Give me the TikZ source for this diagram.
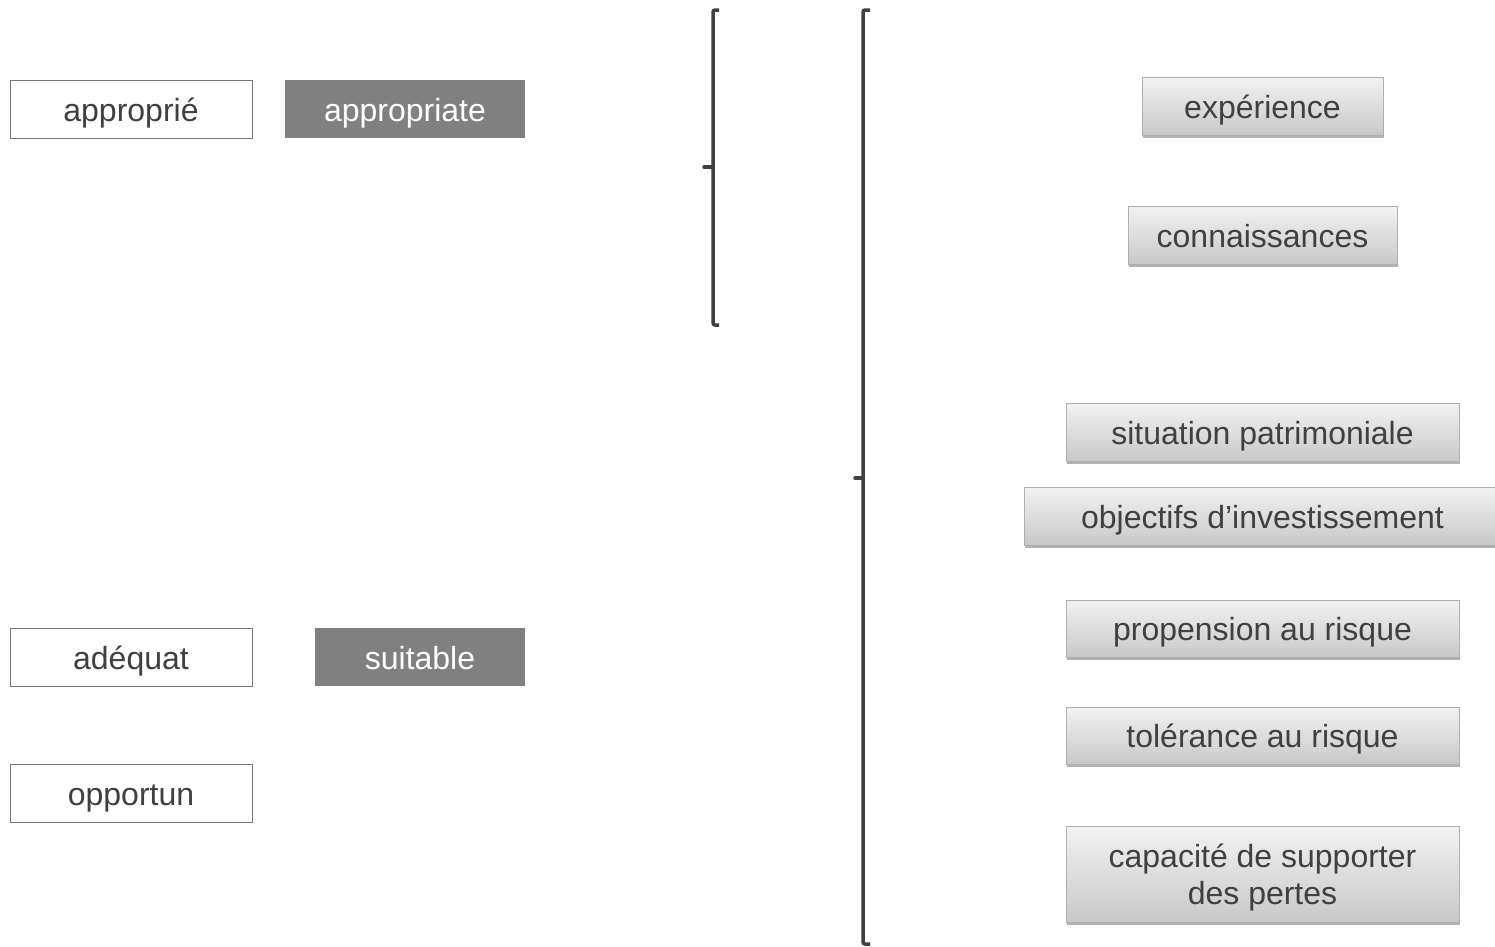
\documentclass[tikz,border=0pt]{standalone}
\usepackage{fontspec}
\setmainfont{Liberation Sans}
\usetikzlibrary{shadows}
\definecolor{txt}{RGB}{64,64,64}
\definecolor{darkbox}{RGB}{128,128,128}
\definecolor{boxline}{RGB}{120,120,120}
\definecolor{gtop}{RGB}{242,242,242}
\definecolor{gbot}{RGB}{200,200,200}
\definecolor{gline}{RGB}{175,175,175}
\definecolor{brk}{RGB}{64,64,64}
\tikzset{
  base/.style={font=\fontsize{32}{37}\selectfont, inner sep=0pt, align=center, text height=27pt, text depth=3pt},
  whitebox/.style={base, draw=boxline, line width=1pt, fill=white, text=txt},
  darkfill/.style={base, fill=darkbox, text=white},
  gradbox/.style={base, draw=gline, line width=1pt, top color=gtop, bottom color=gbot, text=txt,
    drop shadow={shadow xshift=1pt, shadow yshift=-3pt, opacity=0.3, fill=black}},
  bracketline/.style={draw=brk, line width=3.5pt, rounded corners=2pt}
}
\begin{document}
\begin{tikzpicture}[x=1pt,y=-1pt]
\useasboundingbox (0,0) rectangle (1495,946);
% left column
\node[whitebox, minimum width=242pt, minimum height=58pt] (fr1) at (131,109) {approprié};
\node[darkfill, minimum width=240pt, minimum height=58pt] (en1) at (405,109) {appropriate};
\node[whitebox, minimum width=242pt, minimum height=58pt] (fr2) at (131,657) {adéquat};
\node[darkfill, minimum width=210pt, minimum height=58pt] (en2) at (420,657) {suitable};
\node[whitebox, minimum width=242pt, minimum height=58pt] (fr3) at (131,793) {opportun};
% brackets
\coordinate (b1t) at (719,10);
\coordinate (b1m) at (704,167);
\coordinate (b1b) at (719,325);
\draw[bracketline] (b1t) -- (713,10) -- (713,325) -- (b1b);
\draw[draw=brk, line width=3.5pt, line cap=round] (b1m) -- (713,167);
\coordinate (b2t) at (870,10);
\coordinate (b2m) at (855,478);
\coordinate (b2b) at (870,944);
\draw[bracketline] (b2t) -- (863,10) -- (863,944) -- (b2b);
\draw[draw=brk, line width=3.5pt, line cap=round] (b2m) -- (863,478);
% right column
\node[gradbox, minimum width=241pt, minimum height=58pt] (r1) at (1262.5,106) {expérience};
\node[gradbox, minimum width=269pt, minimum height=58pt] (r2) at (1262.5,235) {connaissances};
\node[gradbox, minimum width=393pt, minimum height=58pt] (r3) at (1262.5,432) {situation patrimoniale};
\node[gradbox, minimum width=477pt, minimum height=58pt] (r4) at (1262.5,516) {objectifs d’investissement};
\node[gradbox, minimum width=393pt, minimum height=57pt] (r5) at (1262.5,628.5) {propension au risque};
\node[gradbox, minimum width=393pt, minimum height=57pt] (r6) at (1262.5,735.5) {tolérance au risque};
\node[gradbox, minimum width=393pt, minimum height=96pt, text height=64pt, text depth=3pt] (r7) at (1262.5,874) {capacité de supporter\\des pertes};
\end{tikzpicture}
\end{document}
